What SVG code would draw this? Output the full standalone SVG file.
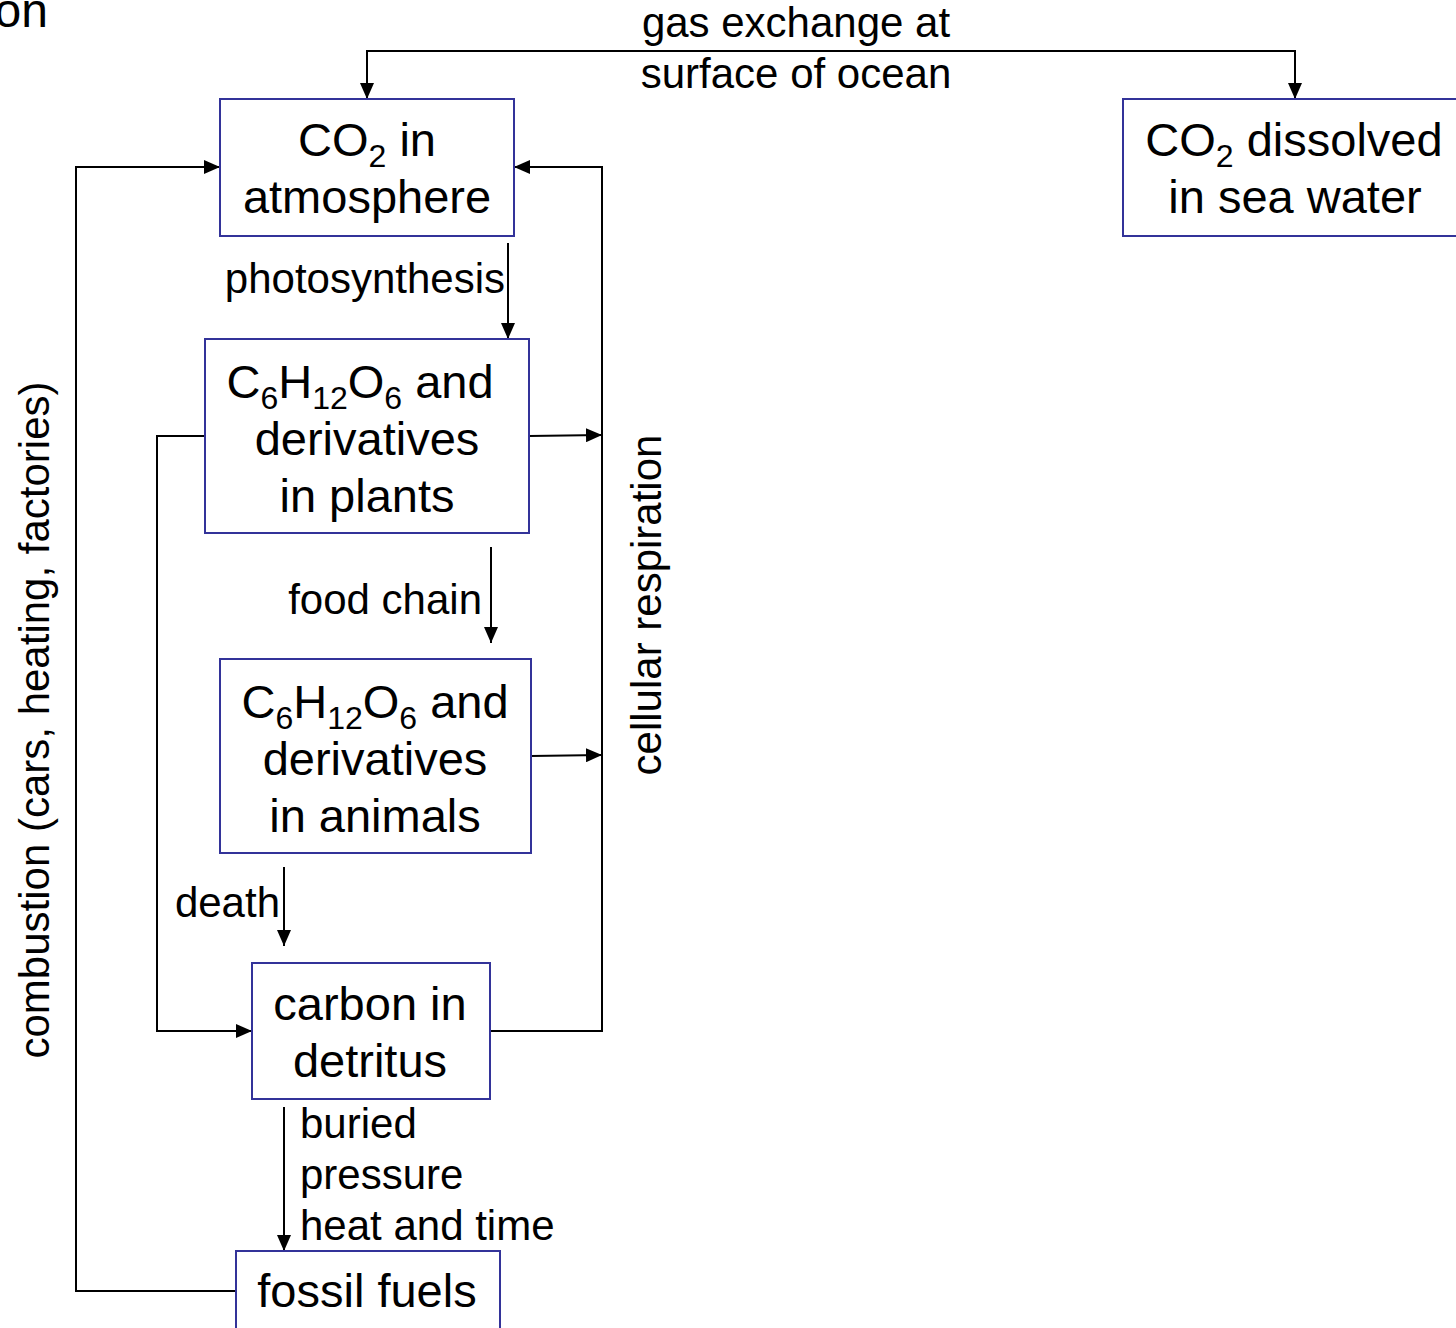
<svg xmlns="http://www.w3.org/2000/svg" width="1456" height="1328" viewBox="0 0 1456 1328">
<defs>
<marker id="ah" viewBox="0 0 16 14" refX="16" refY="7" markerWidth="16" markerHeight="14" markerUnits="userSpaceOnUse" orient="auto">
<path d="M0,0 L16,7 L0,14 z" fill="#000"/>
</marker>
</defs>
<style>
.box{fill:#fff;stroke:#333399;stroke-width:2}
.bt{font-family:"Liberation Sans",Arial,sans-serif;font-size:47px;fill:#000;text-anchor:middle}
.lb{font-family:"Liberation Sans",Arial,sans-serif;font-size:42px;fill:#000}
.sub{font-size:32px}
.c{fill:none;stroke:#000;stroke-width:2}
.a{fill:none;stroke:#000;stroke-width:2;marker-end:url(#ah)}
</style>
<rect width="1456" height="1328" fill="#fff"/>
<text x="48" y="27" class="lb" style="font-size:48px" text-anchor="end">on</text>

<g id="connectors">
<path class="a" d="M581,51 H367 V99"/>
<path class="a" d="M581,51 H1295 V99"/>
<path class="a" d="M236,1291 H76 V167 H220"/>
<path class="a" d="M490,1031 H602 V167 H514"/>
<path class="a" d="M529,436 L602,435"/>
<path class="a" d="M531,756 L602,755"/>
<path class="a" d="M205,436 H157 V1031 H252"/>
<path class="a" d="M508,243 V339"/>
<path class="a" d="M491,547 V643"/>
<path class="a" d="M284,867 V946"/>
<path class="a" d="M284,1107 V1251"/>
<text class="lb" x="796" y="37" text-anchor="middle">gas exchange at</text>
<text class="lb" x="796" y="88" text-anchor="middle">surface of ocean</text>
<text class="lb" x="505" y="293" text-anchor="end">photosynthesis</text>
<text class="lb" x="482" y="614" text-anchor="end">food chain</text>
<text class="lb" x="280" y="917" text-anchor="end">death</text>
<text class="lb" x="300" y="1138">buried</text>
<text class="lb" x="300" y="1189">pressure</text>
<text class="lb" x="300" y="1240">heat and time</text>
<text class="lb" transform="translate(49,720) rotate(-90)" text-anchor="middle">combustion (cars, heating, factories)</text>
<text class="lb" transform="translate(661,605) rotate(-90)" text-anchor="middle">cellular respiration</text>
</g>

<g id="atmosphere">
<rect class="box" x="220" y="99" width="294" height="137"/>
<text class="bt" x="367" y="156">CO<tspan class="sub" dy="11">2</tspan><tspan dy="-11"> in</tspan></text>
<text class="bt" x="367" y="213">atmosphere</text>
</g>

<g id="seawater">
<rect class="box" x="1123" y="99" width="345" height="137"/>
<text class="bt" x="1294" y="156">CO<tspan class="sub" dy="11">2</tspan><tspan dy="-11"> dissolved</tspan></text>
<text class="bt" x="1295" y="213">in sea water</text>
</g>

<g id="plants">
<rect class="box" x="205" y="339" width="324" height="194"/>
<text class="bt" x="360" y="398">C<tspan class="sub" dy="11">6</tspan><tspan dy="-11">H</tspan><tspan class="sub" dy="11">12</tspan><tspan dy="-11">O</tspan><tspan class="sub" dy="11">6</tspan><tspan dy="-11"> and</tspan></text>
<text class="bt" x="367" y="455">derivatives</text>
<text class="bt" x="367" y="512">in plants</text>
</g>

<g id="animals">
<rect class="box" x="220" y="659" width="311" height="194"/>
<text class="bt" x="375" y="718">C<tspan class="sub" dy="11">6</tspan><tspan dy="-11">H</tspan><tspan class="sub" dy="11">12</tspan><tspan dy="-11">O</tspan><tspan class="sub" dy="11">6</tspan><tspan dy="-11"> and</tspan></text>
<text class="bt" x="375" y="775">derivatives</text>
<text class="bt" x="375" y="832">in animals</text>
</g>

<g id="detritus">
<rect class="box" x="252" y="963" width="238" height="136"/>
<text class="bt" x="370" y="1020">carbon in</text>
<text class="bt" x="370" y="1077">detritus</text>
</g>

<g id="fossil">
<rect class="box" x="236" y="1251" width="264" height="100"/>
<text class="bt" x="367" y="1307">fossil fuels</text>
</g>
</svg>
